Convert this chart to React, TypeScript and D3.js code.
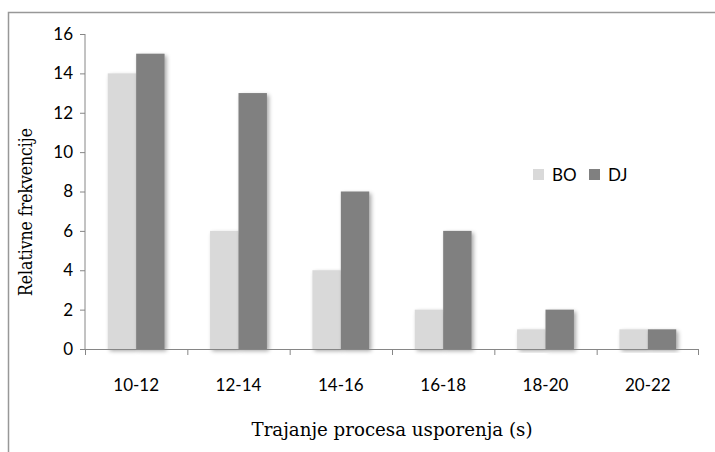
import React from "react";
import * as d3 from "d3";

const categories = ["10-12", "12-14", "14-16", "16-18", "18-20", "20-22"];
const seriesNames = ["BO", "DJ"];
const boValues = [14, 6, 4, 2, 1, 1];
const djValues = [15, 13, 8, 6, 2, 1];
const yTicks = [0, 2, 4, 6, 8, 10, 12, 14, 16];
const colors = ["#d9d9d9", "#808080"];

export default function App() {
  const W = 715, H = 452;
  const left = 85, right = 699, top = 34, bottom = 349;
  const x = d3.scaleBand<string>().domain(categories).range([left, right]).paddingInner(0).paddingOuter(0);
  const y = d3.scaleLinear().domain([0, 16]).range([bottom, top]);
  const step = x.bandwidth();
  const barW = step / 1.8 / 2;
  const series = [boValues, djValues];
  const axisColor = "#868686";
  const sans = "Lato, 'Open Sans', sans-serif";
  const serif = "'DejaVu Serif', 'Liberation Serif', serif";
  return (
    <svg width={W} height={H} style={{ position: "absolute", left: 0, top: 0 }}>
      <defs>
        <filter id="sh" x="-20%" y="-20%" width="150%" height="140%">
          <feGaussianBlur in="SourceAlpha" stdDeviation="2" />
          <feOffset dx="2" dy="2" result="b" />
          <feComponentTransfer>
            <feFuncA type="linear" slope="0.35" />
          </feComponentTransfer>
          <feMerge>
            <feMergeNode />
            <feMergeNode in="SourceGraphic" />
          </feMerge>
        </filter>
      </defs>
      <rect x={0} y={0} width={W} height={H} fill="#fff" />
      <rect x={8.5} y={12.5} width={W + 10} height={H + 10} fill="none" stroke="#989898" strokeWidth={1.5} />
      {categories.map((c, i) =>
        series.map((vals, s) => {
          const cx = (x(c) as number) + step / 2;
          const bx = cx - barW + s * barW;
          return (
            <rect key={c + s} x={bx} y={y(vals[i])} width={barW} height={bottom - y(vals[i])}
              fill={colors[s]} filter="url(#sh)" />
          );
        })
      )}
      <line x1={left} x2={left} y1={top} y2={bottom} stroke={axisColor} />
      <line x1={left} x2={right} y1={bottom + 0.5} y2={bottom + 0.5} stroke={axisColor} />
      {yTicks.map((t) => (
        <g key={t}>
          <line x1={left - 5} x2={left} y1={y(t) + 0.5} y2={y(t) + 0.5} stroke={axisColor} />
          <text x={73} y={y(t)} dy="0.35em" textAnchor="end" fontFamily={sans} fontSize={17} fill="#000">{t}</text>
        </g>
      ))}
      {categories.map((c) => (
        <line key={"t" + c} x1={(x(c) as number) + 0.5} x2={(x(c) as number) + 0.5} y1={bottom} y2={bottom + 6} stroke={axisColor} />
      ))}
      <line x1={right - 0.5} x2={right - 0.5} y1={bottom} y2={bottom + 6} stroke={axisColor} />
      {categories.map((c) => (
        <text key={"l" + c} x={(x(c) as number) + step / 2} y={385} dy="0.35em" textAnchor="middle" fontFamily={sans} fontSize={17} fill="#000">{c}</text>
      ))}
      <text x={392} y={429} dy="0.35em" textAnchor="middle" fontFamily={serif} fontSize={19} textLength={281} lengthAdjust="spacingAndGlyphs" fill="#000">Trajanje procesa usporenja (s)</text>
      <text transform={`translate(25,212) rotate(-90)`} dy="0.35em" textAnchor="middle" fontFamily={serif} fontSize={19} textLength={168} lengthAdjust="spacingAndGlyphs" fill="#000">Relativne frekvencije</text>
      {seriesNames.map((n, i) => (
        <g key={n}>
          <rect x={533 + i * 56} y={169} width={11} height={11} fill={colors[i]} />
          <text x={552 + i * 56} y={175} dy="0.35em" fontFamily={sans} fontSize={17} fill="#000">{n}</text>
        </g>
      ))}
    </svg>
  );
}
